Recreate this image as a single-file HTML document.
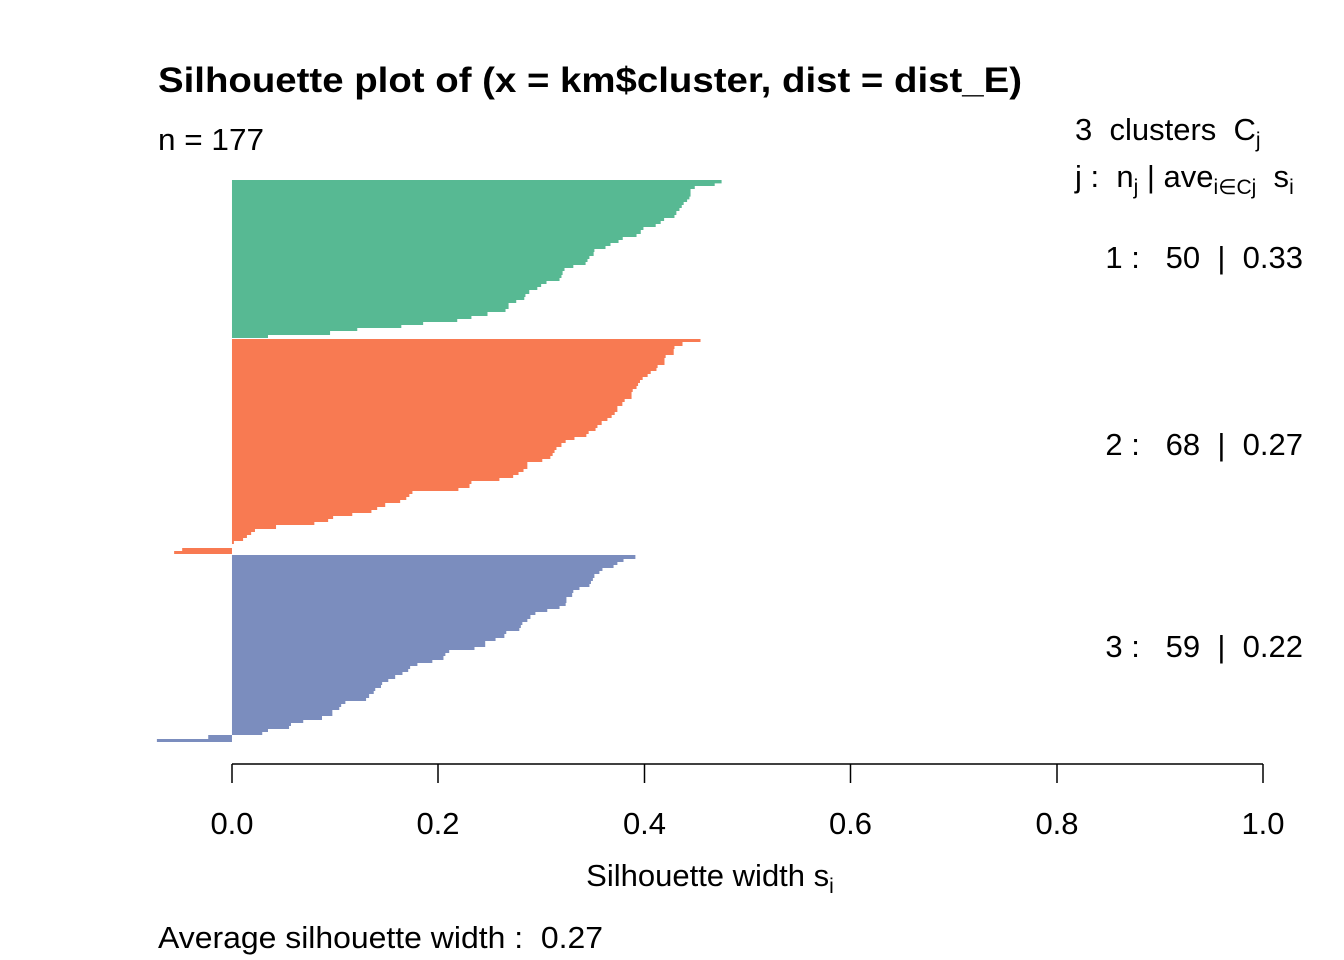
<!DOCTYPE html>
<html><head><meta charset="utf-8"><style>html,body{margin:0;padding:0;background:#fff}svg{display:block}</style></head>
<body>
<svg width="1344" height="960" viewBox="0 0 1344 960" xmlns="http://www.w3.org/2000/svg" font-family="Liberation Sans, Arial, sans-serif">
<g transform="translate(150,170) scale(0.3831,0.3333)">
<polygon fill="#57B993" points="214,30 1492,30 1492,40 1474,40 1474,48 1422,48 1422,57 1411,57 1411,80 1408,80 1408,88 1402,88 1402,96 1393,96 1393,105 1388,105 1388,114 1382,114 1382,123 1374,123 1374,135 1369,135 1369,144 1342,144 1342,153 1333,153 1333,162 1320,162 1320,171 1288,171 1288,180 1281,180 1281,192 1270,192 1270,201 1234,201 1234,210 1223,210 1223,219 1202,219 1202,228 1189,228 1189,237 1160,237 1160,246 1158,246 1158,258 1147,258 1147,267 1142,267 1142,276 1137,276 1137,285 1105,285 1105,294 1082,294 1082,303 1077,303 1077,315 1074,315 1074,324 1069,324 1069,333 1035,333 1035,342 1021,342 1021,351 1011,351 1011,360 990,360 990,372 980,372 980,381 977,381 977,390 956,390 956,399 936,399 936,417 928,417 928,426 881,426 881,438 839,438 839,447 802,447 802,456 713,456 713,465 656,465 656,474 541,474 541,483 470,483 470,495 308,495 308,504 214,504"/>
<polygon fill="#F87A52" points="214,507 1437,507 1437,516 1390,516 1390,528 1369,528 1369,537 1367,537 1367,555 1346,555 1346,564 1343,564 1343,585 1325,585 1325,594 1322,594 1322,603 1307,603 1307,612 1299,612 1299,621 1286,621 1286,630 1279,630 1279,639 1274,639 1274,648 1270,648 1270,657 1260,657 1260,666 1257,666 1257,687 1239,687 1239,696 1233,696 1233,708 1220,708 1220,726 1213,726 1213,735 1205,735 1205,744 1194,744 1194,753 1179,753 1179,765 1168,765 1168,774 1163,774 1163,783 1145,783 1145,792 1139,792 1139,801 1108,801 1108,810 1085,810 1085,819 1074,819 1074,831 1061,831 1061,840 1056,840 1056,849 1051,849 1051,858 1045,858 1045,867 1024,867 1024,876 985,876 985,897 975,897 975,906 962,906 962,915 948,915 948,924 912,924 912,933 839,933 839,942 834,942 834,954 805,954 805,963 685,963 685,972 677,972 677,981 669,981 669,990 653,990 653,999 614,999 614,1011 593,1011 593,1020 578,1020 578,1029 528,1029 528,1038 478,1038 478,1047 465,1047 465,1056 429,1056 429,1065 329,1065 329,1077 274,1077 274,1086 264,1086 264,1095 253,1095 253,1104 243,1104 243,1113 219,1113 219,1122 214,1122 214,1134 84,1134 84,1143 63,1143 63,1152 214,1152"/>
<polygon fill="#7B8DBE" points="214,1155 1267,1155 1267,1167 1236,1167 1236,1176 1220,1176 1220,1185 1210,1185 1210,1194 1181,1194 1181,1203 1173,1203 1173,1212 1160,1212 1160,1224 1156,1224 1156,1233 1151,1233 1151,1242 1147,1242 1147,1251 1121,1251 1121,1260 1105,1260 1105,1269 1102,1269 1102,1281 1087,1281 1087,1299 1085,1299 1085,1308 1069,1308 1069,1317 1037,1317 1037,1326 1006,1326 1006,1335 993,1335 993,1347 985,1347 985,1356 972,1356 972,1365 968,1365 968,1374 964,1374 964,1383 930,1383 930,1392 925,1392 925,1404 902,1404 902,1413 875,1413 875,1431 847,1431 847,1440 781,1440 781,1449 771,1449 771,1458 766,1458 766,1470 737,1470 737,1479 698,1479 698,1488 679,1488 679,1497 674,1497 674,1506 659,1506 659,1515 640,1515 640,1527 622,1527 622,1536 606,1536 606,1545 603,1545 603,1554 588,1554 588,1563 584,1563 584,1572 572,1572 572,1584 564,1584 564,1593 510,1593 510,1602 499,1602 499,1611 494,1611 494,1620 476,1620 476,1638 449,1638 449,1650 400,1650 400,1659 368,1659 368,1668 363,1668 363,1677 308,1677 308,1686 293,1686 293,1695 214,1695 214,1695 152,1695 152,1707 18,1707 18,1716 214,1716"/>
</g>
<text x="158" y="92" font-size="35" font-weight="bold" textLength="864" lengthAdjust="spacingAndGlyphs">Silhouette plot of (x = km$cluster, dist = dist_E)</text>
<text x="158" y="150" font-size="31" textLength="106" lengthAdjust="spacingAndGlyphs">n = 177</text>
<text x="1075" y="140" font-size="31" xml:space="preserve">3  clusters  C<tspan font-size="21" dy="7">j</tspan></text>
<text x="1075" y="187" font-size="31" xml:space="preserve">j :  n<tspan font-size="21" dy="7">j</tspan><tspan dy="-7"> | ave</tspan><tspan font-size="21" dy="7">i∈Cj</tspan><tspan dy="-7">  s</tspan><tspan font-size="21" dy="7">i</tspan></text>
<text x="1303" y="268" font-size="31" text-anchor="end" xml:space="preserve">1 :   50  |  0.33</text>
<text x="1303" y="455" font-size="31" text-anchor="end" xml:space="preserve">2 :   68  |  0.27</text>
<text x="1303" y="657" font-size="31" text-anchor="end" xml:space="preserve">3 :   59  |  0.22</text>
<g stroke="#000" stroke-width="1.5" fill="none">
<line x1="232" y1="764" x2="1263" y2="764"/>
<line x1="232" y1="764" x2="232" y2="783"/><line x1="438" y1="764" x2="438" y2="783"/><line x1="644.5" y1="764" x2="644.5" y2="783"/><line x1="850.5" y1="764" x2="850.5" y2="783"/><line x1="1057" y1="764" x2="1057" y2="783"/><line x1="1263" y1="764" x2="1263" y2="783"/>
</g>
<g font-size="31" text-anchor="middle">
<text x="232" y="834">0.0</text><text x="438" y="834">0.2</text><text x="644.5" y="834">0.4</text><text x="850.5" y="834">0.6</text><text x="1057" y="834">0.8</text><text x="1263" y="834">1.0</text>
<text x="710" y="886">Silhouette width s<tspan font-size="21" dy="7">i</tspan></text>
</g>
<text x="158" y="948" font-size="31" xml:space="preserve" textLength="445" lengthAdjust="spacingAndGlyphs">Average silhouette width :  0.27</text>
</svg>
</body></html>
